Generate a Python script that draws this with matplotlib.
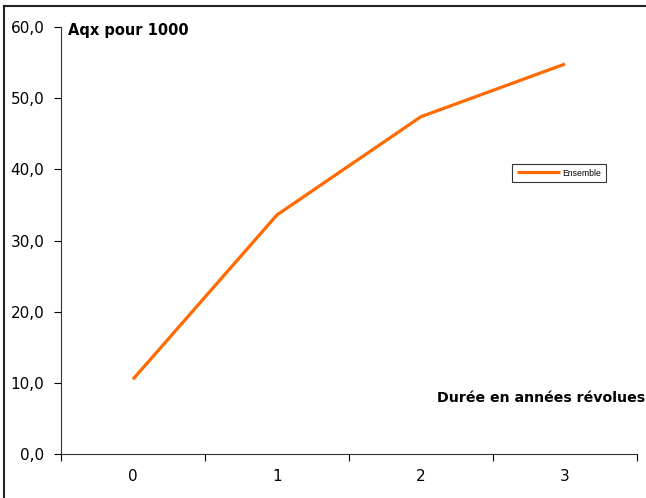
import matplotlib.pyplot as plt
from matplotlib.lines import Line2D
from matplotlib.ticker import FixedLocator, FuncFormatter, NullFormatter

# data
durees = [0, 1, 2, 3]
aqx = [10.5, 33.6, 47.4, 54.8]
serie = "Ensemble"

plt.rcParams['font.family'] = ['DejaVu Sans']

fig = plt.figure(figsize=(6.46, 4.98), dpi=100)
ax = fig.add_axes([61 / 646, 1 - 454 / 498, 576 / 646, 427 / 498])

ax.plot(durees, aqx, color="#FF6A00", lw=2.3, label=serie, solid_capstyle="butt")

ax.set_xlim(-0.5, 3.5)
ax.set_ylim(0, 60)
ax.xaxis.set_major_locator(FixedLocator([-0.5, 0.5, 1.5, 2.5, 3.5]))
ax.xaxis.set_major_formatter(NullFormatter())
ax.xaxis.set_minor_locator(FixedLocator(durees))
ax.xaxis.set_minor_formatter(FuncFormatter(lambda v, p: f"{int(round(v))}"))
ax.tick_params(axis="x", which="minor", length=0, pad=11, labelsize=11)
ax.tick_params(axis="x", which="major", length=5, direction="out")
ax.set_yticks(range(0, 61, 10))
ax.yaxis.set_major_formatter(FuncFormatter(lambda v, p: f"{v:.1f}".replace(".", ",")))
ax.tick_params(axis="y", length=5, direction="out", labelsize=11, pad=7)
for s in ("top", "right"):
    ax.spines[s].set_visible(False)
for s in ("left", "bottom"):
    ax.spines[s].set_color("#333333")

fig.text(68 / 646, 1 - 30 / 498, "Aqx pour 1000", fontsize=10.5, fontweight="bold",
         ha="left", va="center")
fig.text(645 / 646, 1 - 398 / 498, "Durée en années révolues", fontsize=10.2,
         fontweight="bold", ha="right", va="center")

leg = ax.legend(loc="center left", bbox_to_anchor=((512 - 61) / 576, (454 - 173) / 427),
                prop={"family": ["Liberation Sans Narrow", "Liberation Sans"], "size": 6.2},
                frameon=True, fancybox=False, handlelength=5.0, handletextpad=0.3,
                borderpad=0.55, borderaxespad=0)
leg.get_frame().set_edgecolor("black")
leg.get_frame().set_linewidth(0.8)

# outer frame, visible only on top and left edges
fig.add_artist(Line2D([3.5 / 646, 3.5 / 646], [0, 1 - 6 / 498], transform=fig.transFigure,
                      color="#222222", lw=1.5))
fig.add_artist(Line2D([3.5 / 646, 1], [1 - 6 / 498, 1 - 6 / 498], transform=fig.transFigure,
                      color="#222222", lw=1.5))

fig.savefig("out.png", dpi=100)
